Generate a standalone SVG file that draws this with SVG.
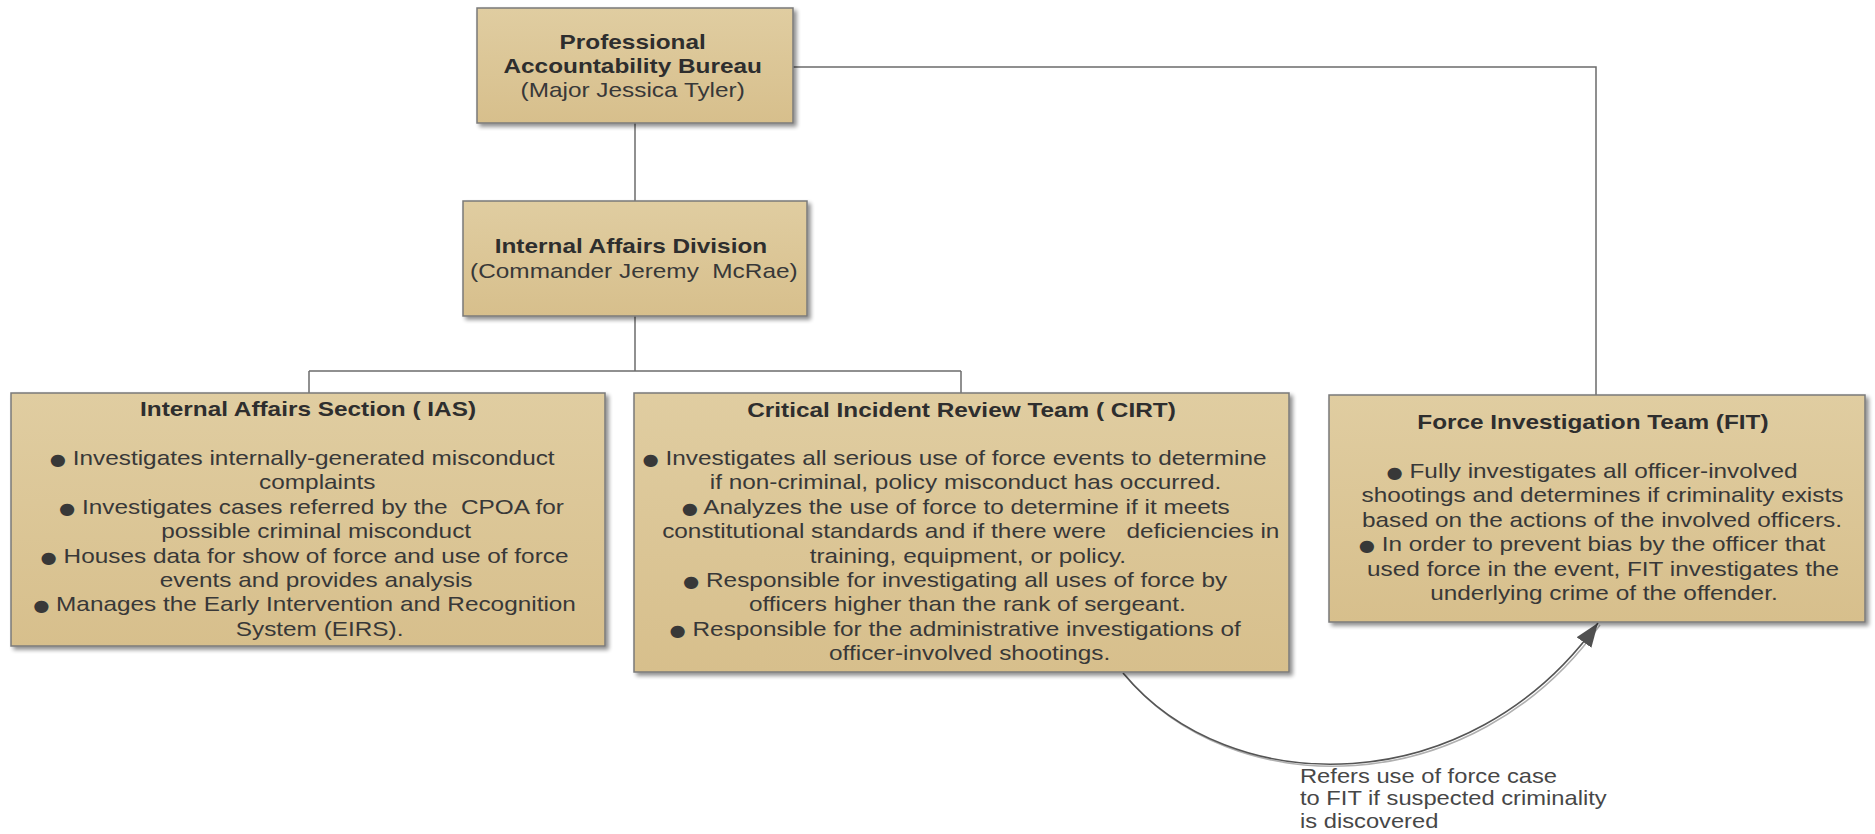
<svg xmlns="http://www.w3.org/2000/svg" width="1875" height="834" viewBox="0 0 1875 834">
<defs>
<linearGradient id="g" x1="0" y1="0" x2="0" y2="1">
<stop offset="0" stop-color="#e0cda1"/>
<stop offset="1" stop-color="#d7bf8c"/>
</linearGradient>
<filter id="sh" x="-5%" y="-5%" width="115%" height="120%">
<feGaussianBlur in="SourceAlpha" stdDeviation="2"/>
<feOffset dx="3" dy="3" result="o"/>
<feComponentTransfer><feFuncA type="linear" slope="0.45"/></feComponentTransfer>
<feMerge><feMergeNode/><feMergeNode in="SourceGraphic"/></feMerge>
</filter>
<marker id="arr" viewBox="0 0 24 18" refX="24" refY="9" markerWidth="24" markerHeight="18" markerUnits="userSpaceOnUse" orient="auto">
<path d="M0,0 L24,9 L0,18 Z" fill="#505050"/>
</marker>
<style>
.box{fill:url(#g);stroke:#7a7a7a;stroke-width:1.5;filter:url(#sh)}
.t{font-family:"Liberation Sans",Arial,sans-serif;font-size:21px;fill:#383838;text-anchor:middle;white-space:pre}
.h{font-weight:bold;fill:#2e2e2e}
.b{font-family:"DejaVu Sans",sans-serif;font-size:16px}
.conn{fill:none;stroke:#6b6b6b;stroke-width:1.5}
.lbl{font-family:"Liberation Sans",Arial,sans-serif;font-size:21px;fill:#474747;white-space:pre}
</style>
</defs>
<rect width="1875" height="834" fill="#ffffff"/>

<g id="connectors">
<path class="conn" d="M635,123 V201"/>
<path class="conn" d="M635,316 V371"/>
<path class="conn" d="M309,371 H961"/>
<path class="conn" d="M309,371 V393"/>
<path class="conn" d="M961,371 V393"/>
<path class="conn" d="M793,67 H1596 V395"/>
<path d="M1125,675 C1232,804 1472,804 1600,625" fill="none" stroke="#b0b0b0" stroke-width="1.5"/>
<path d="M1123,673 C1230,802 1470,802 1598,623" fill="none" stroke="#555" stroke-width="1.6" marker-end="url(#arr)"/>
</g>

<g id="pab">
<rect class="box" x="477" y="8" width="316" height="115"/>
<g transform="translate(635 0) scale(1.16 1)">
<text class="t h" x="-2" y="49">Professional</text>
<text class="t h" x="-2" y="73">Accountability Bureau</text>
<text class="t" x="-2" y="97">(Major Jessica Tyler)</text>
</g>
</g>

<g id="iad">
<rect class="box" x="463" y="201" width="344" height="115"/>
<g transform="translate(635 0) scale(1.16 1)">
<text class="t h" x="-3.5" y="253">Internal Affairs Division</text>
<text class="t" x="-1" y="278">(Commander Jeremy  McRae)</text>
</g>
</g>

<g id="ias">
<rect class="box" x="11" y="393" width="594" height="253"/>
<g transform="translate(308 0) scale(1.16 1)">
<text class="t h" x="0" y="416">Internal Affairs Section ( IAS)</text>
<text class="t" x="-5" y="465"><tspan class="b">●</tspan> Investigates internally-generated misconduct</text>
<text class="t" x="8" y="489">complaints</text>
<text class="t" x="3" y="514"><tspan class="b">●</tspan> Investigates cases referred by the  CPOA for</text>
<text class="t" x="7" y="538">possible criminal misconduct</text>
<text class="t" x="-3" y="563"><tspan class="b">●</tspan> Houses data for show of force and use of force</text>
<text class="t" x="7" y="587">events and provides analysis</text>
<text class="t" x="-3" y="611"><tspan class="b">●</tspan> Manages the Early Intervention and Recognition</text>
<text class="t" x="10" y="636">System (EIRS).</text>
</g>
</g>

<g id="cirt">
<rect class="box" x="634" y="393" width="655" height="279"/>
<g transform="translate(961.5 0) scale(1.16 1)">
<text class="t h" x="0" y="417">Critical Incident Review Team ( CIRT)</text>
<text class="t" x="-6" y="465"><tspan class="b">●</tspan> Investigates all serious use of force events to determine</text>
<text class="t" x="3.5" y="489">if non-criminal, policy misconduct has occurred.</text>
<text class="t" x="-5" y="514"><tspan class="b">●</tspan> Analyzes the use of force to determine if it meets</text>
<text class="t" x="8" y="538">constitutional standards and if there were   deficiencies in</text>
<text class="t" x="5.5" y="563">training, equipment, or policy.</text>
<text class="t" x="-5.5" y="587"><tspan class="b">●</tspan> Responsible for investigating all uses of force by</text>
<text class="t" x="5" y="611">officers higher than the rank of sergeant.</text>
<text class="t" x="-5.5" y="636"><tspan class="b">●</tspan> Responsible for the administrative investigations of</text>
<text class="t" x="7" y="660">officer-involved shootings.</text>
</g>
</g>

<g id="fit">
<rect class="box" x="1329" y="395" width="536" height="227"/>
<g transform="translate(1597 0) scale(1.16 1)">
<text class="t h" x="-3.5" y="429">Force Investigation Team (FIT)</text>
<text class="t" x="-4.3" y="478"><tspan class="b">●</tspan> Fully investigates all officer-involved</text>
<text class="t" x="4.7" y="502">shootings and determines if criminality exists</text>
<text class="t" x="4.3" y="527">based on the actions of the involved officers.</text>
<text class="t" x="-4.3" y="551"><tspan class="b">●</tspan> In order to prevent bias by the officer that</text>
<text class="t" x="5.2" y="576">used force in the event, FIT investigates the</text>
<text class="t" x="6" y="600">underlying crime of the offender.</text>
</g>
</g>

<g id="label">
<g transform="translate(1300 0) scale(1.13 1)">
<text class="lbl" x="0" y="783">Refers use of force case</text>
<text class="lbl" x="0" y="805">to FIT if suspected criminality</text>
<text class="lbl" x="0" y="828">is discovered</text>
</g>
</g>
</svg>
